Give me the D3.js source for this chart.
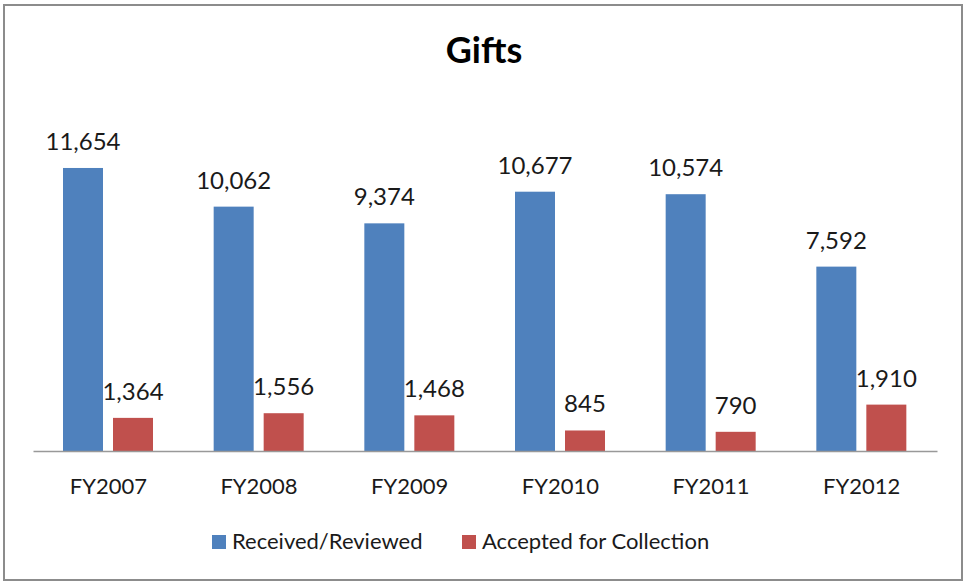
<!DOCTYPE html>
<html>
<head>
<meta charset="utf-8">
<script src="https://cdn.jsdelivr.net/npm/d3@7"></script>
<style>
  body { margin: 0; background: #fff; }
  svg { display: block; font-family: Lato, "Open Sans", sans-serif; }
</style>
</head>
<body>
<div id="chart"></div>
<script>
// Data
const years = ["FY2007", "FY2008", "FY2009", "FY2010", "FY2011", "FY2012"];
const seriesNames = ["Received/Reviewed", "Accepted for Collection"];
const received = [11654, 10062, 9374, 10677, 10574, 7592];
const accepted = [1364, 1556, 1468, 845, 790, 1910];
const colours = ["#4F81BD", "#C0504D"];

const width = 964;
const height = 582;
const plot = { left: 33, right: 937, top: 111, bottom: 451 };

const rows = years.map((year, i) => ({ year, values: [received[i], accepted[i]] }));

const fmt = d3.format(",");

const svg = d3
  .select("#chart")
  .append("svg")
  .attr("width", width)
  .attr("height", height);

// Outer frame
svg
  .append("rect")
  .attr("x", 4)
  .attr("y", 5)
  .attr("width", 958)
  .attr("height", 575)
  .attr("fill", "#fff")
  .attr("stroke", "#8c8c8c")
  .attr("stroke-width", 2);

// Title
svg
  .append("text")
  .attr("x", 484)
  .attr("y", 63)
  .attr("text-anchor", "middle")
  .attr("font-size", 36)
  .attr("font-weight", "bold")
  .attr("fill", "#000")
  .text("Gifts");

// Scales
const x0 = d3.scaleBand().domain(years).range([plot.left, plot.right]);
const x1 = d3
  .scaleBand()
  .domain([0, 1])
  .range([30, 120])
  .paddingInner(0.2);
const y = d3.scaleLinear().domain([0, 14000]).range([plot.bottom, plot.top]);

// Bars and value labels
const groups = svg
  .selectAll("g.group")
  .data(rows)
  .enter()
  .append("g")
  .attr("class", "group")
  .attr("transform", (d) => `translate(${x0(d.year)},0)`);

const cells = groups
  .selectAll("g.cell")
  .data((d) => d.values.map((v, k) => ({ v, k })))
  .enter()
  .append("g");

cells
  .append("rect")
  .attr("x", (d) => x1(d.k))
  .attr("y", (d) => y(d.v))
  .attr("width", x1.bandwidth())
  .attr("height", (d) => y(0) - y(d.v))
  .attr("fill", (d) => colours[d.k]);

cells
  .append("text")
  .attr("x", (d) => x1(d.k) + x1.bandwidth() / 2)
  .attr("y", (d) => y(d.v) - 18)
  .attr("text-anchor", "middle")
  .attr("font-size", 24)
  .attr("fill", "#1a1a1a")
  .text((d) => fmt(d.v));

// Category axis
const xAxis = svg
  .append("g")
  .attr("transform", `translate(0,${plot.bottom})`)
  .call(d3.axisBottom(x0).tickSize(0).tickPadding(0).tickSizeOuter(0));
xAxis.select(".domain").attr("stroke", "#999").attr("stroke-width", 1.5);
xAxis
  .selectAll(".tick text")
  .attr("dy", null)
  .attr("y", 43)
  .attr("font-family", "Lato, 'Open Sans', sans-serif")
  .attr("font-size", 22)
  .attr("fill", "#1a1a1a");

// Legend
const legendX = [212, 462];
const legend = svg
  .selectAll("g.legend")
  .data(seriesNames)
  .enter()
  .append("g")
  .attr("class", "legend")
  .attr("transform", (d, i) => `translate(${legendX[i]},535)`);

legend
  .append("rect")
  .attr("width", 14)
  .attr("height", 14)
  .attr("fill", (d, i) => colours[i]);

legend
  .append("text")
  .attr("x", 20)
  .attr("y", 14)
  .attr("font-size", 22)
  .attr("fill", "#1a1a1a")
  .text((d) => d);
</script>
</body>
</html>
